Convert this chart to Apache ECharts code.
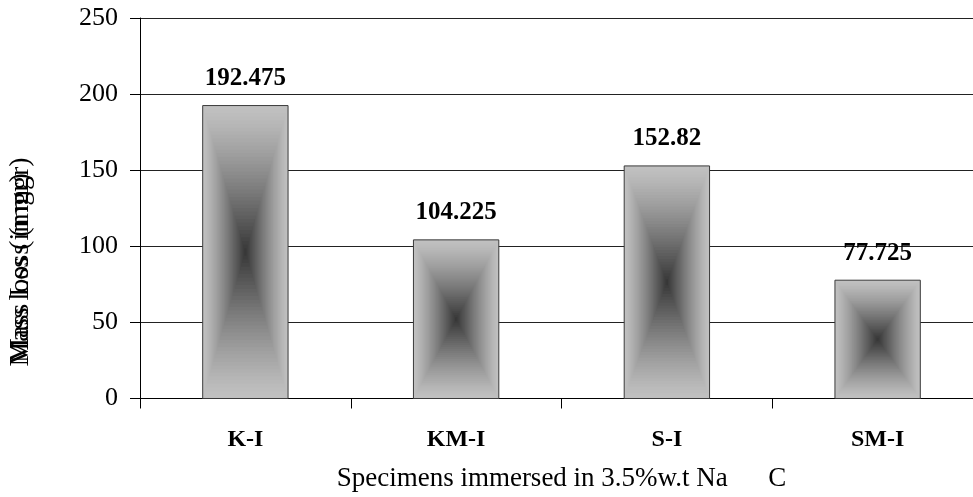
<!DOCTYPE html>
<html>
<head>
<meta charset="utf-8">
<script src="https://cdn.jsdelivr.net/npm/echarts@6/dist/echarts.min.js"></script>
<style>
  html, body { margin: 0; padding: 0; background: #fff; }
  #chart { width: 973px; height: 497px; }
</style>
</head>
<body>
<div id="chart"></div>
<script>
// Mass loss of specimens immersed in NaCl solution
const categories = ['K-I', 'KM-I', 'S-I', 'SM-I'];
const massLoss = [192.475, 104.225, 152.82, 77.725];
const yTicks = [0, 50, 100, 150, 200, 250];

const FONT = '"Liberation Serif", "Times New Roman", serif';

const chart = echarts.init(document.getElementById('chart'), null, { renderer: 'canvas' });

// Bars filled with a rectangular (path) gradient: light edges, dark centre.
function renderBar(params, api) {
  const idx = api.value(0);
  const val = api.value(1);
  const top = api.coord([idx, val]);
  const base = api.coord([idx, 0]);
  const bw = api.size([1, 0])[0] * 0.405;
  const cx = top[0];
  const h = base[1] - top[1];
  const cy = top[1] + h / 2;
  const steps = 40;
  const children = [];
  for (let k = 0; k < steps; k++) {
    const f = k / steps;
    const w = bw * (1 - f);
    const hh = h * (1 - f);
    const g = Math.round(192 - (192 - 52) * Math.pow(f, 1.25));
    children.push({
      type: 'rect',
      shape: { x: cx - w / 2, y: cy - hh / 2, width: w, height: hh },
      style: { fill: 'rgb(' + g + ',' + g + ',' + g + ')' },
      silent: true
    });
  }
  children.push({
    type: 'rect',
    shape: { x: cx - bw / 2, y: top[1], width: bw, height: h },
    style: { fill: 'none', stroke: '#3a3a3a', lineWidth: 1 }
  });
  children.push({
    type: 'text',
    x: cx,
    y: top[1] - 27,
    style: {
      text: String(val),
      align: 'center',
      verticalAlign: 'middle',
      font: 'bold 25px ' + FONT,
      fill: '#000'
    }
  });
  return { type: 'group', children: children };
}

chart.setOption({
  animation: false,
  backgroundColor: '#fff',
  grid: {
    left: 140, right: -10, top: 18, bottom: 98.5,
    containLabel: false,
    outerBoundsMode: 'none'
  },
  xAxis: {
    type: 'category',
    data: categories,
    axisLine: { lineStyle: { color: '#000', width: 1 } },
    axisTick: { show: true, length: 10, lineStyle: { color: '#000' } },
    axisLabel: {
      margin: 29,
      fontFamily: FONT,
      fontWeight: 'bold',
      fontSize: 24,
      color: '#000'
    },
    name: 'Specimens immersed in 3.5%w.t Na      C',
    nameLocation: 'middle',
    nameGap: 67,
    nameTextStyle: { fontFamily: FONT, fontSize: 27, color: '#000' }
  },
  yAxis: {
    type: 'value',
    min: yTicks[0],
    max: yTicks[yTicks.length - 1],
    interval: 50,
    axisLine: { show: true, lineStyle: { color: '#000', width: 1 } },
    axisTick: { show: true, length: 10, lineStyle: { color: '#000' } },
    axisLabel: {
      margin: 22,
      fontFamily: FONT,
      fontSize: 26,
      color: '#000'
    },
    splitLine: { show: true, lineStyle: { color: '#222', width: 1 } }
  },
  graphic: [
    {
      type: 'text',
      x: 21, y: 262,
      rotation: Math.PI / 2,
      style: {
        text: 'Mass loss (in mgr)',
        align: 'center', verticalAlign: 'middle',
        font: '28px ' + FONT, fill: '#000'
      }
    },
    {
      type: 'text',
      x: 21, y: 268,
      rotation: Math.PI / 2,
      style: {
        text: 'Mass Loss (mgr)',
        align: 'center', verticalAlign: 'middle',
        font: '28px ' + FONT, fill: '#000'
      }
    }
  ],
  series: [{
    type: 'custom',
    renderItem: renderBar,
    data: massLoss.map((v, i) => [i, v]),
    z: 5
  }]
});
</script>
</body>
</html>
